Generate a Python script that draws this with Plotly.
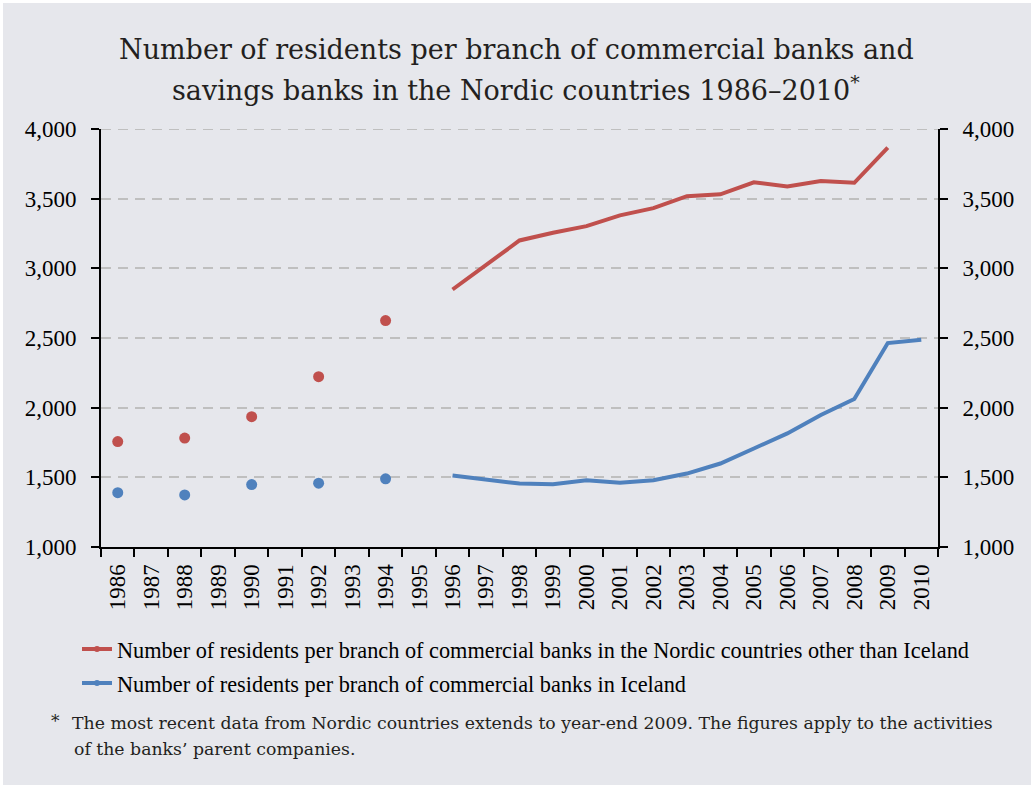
import plotly.graph_objects as go

# Year categories on the x axis
years = [str(y) for y in range(1986, 2011)]

# Early observations (every second year) shown as dots
dot_years = ["1986", "1988", "1990", "1992", "1994"]
nordic_dots = [1757, 1782, 1935, 2222, 2625]
iceland_dots = [1390, 1374, 1448, 1458, 1489]

# Annual series from 1996 onward
nordic_line_years = [str(y) for y in range(1996, 2010)]
nordic_line = [2848, 3025, 3200, 3255, 3303, 3380, 3432, 3518, 3531, 3617, 3588, 3626, 3614, 3866]
iceland_line_years = [str(y) for y in range(1996, 2011)]
iceland_line = [1513, 1482, 1455, 1451, 1479, 1462, 1479, 1527, 1599, 1707, 1815, 1947, 2062, 2464, 2488]

y_ticks = [1000, 1500, 2000, 2500, 3000, 3500, 4000]

legend_names = [
    "Number of residents per branch of commercial banks in the Nordic countries other than Iceland",
    "Number of residents per branch of commercial banks in Iceland",
]
title_lines = [
    "Number of residents per branch of commercial banks and",
    "savings banks in the Nordic countries 1986\u20132010<sup>*</sup>",
]
footnote_lines = [
    "The most recent data from Nordic countries extends to year-end 2009. The figures apply to the activities",
    "of the banks\u2019 parent companies.",
]

RED = "#c0504d"
BLUE = "#4f81bd"
BG = "#e6e7ec"
GRID = "#bfbfbf"
SERIF = "Liberation Serif, Times New Roman, serif"
TITLE_FONT = "DejaVu Serif, serif"

W, H = 1036, 787
ML, MR, MT, MB = 101, 98, 129, 240
PW, PH = W - ML - MR, H - MT - MB


def px_x(px):
    return (px - ML) / PW


def px_y(py):
    return (H - MB - py) / PH


fig = go.Figure()

fig.add_trace(go.Scatter(x=nordic_line_years, y=nordic_line, mode="lines",
                         line=dict(color=RED, width=4), showlegend=False))
fig.add_trace(go.Scatter(x=iceland_line_years, y=iceland_line, mode="lines",
                         line=dict(color=BLUE, width=4), showlegend=False))
fig.add_trace(go.Scatter(x=dot_years, y=nordic_dots, mode="markers",
                         marker=dict(color=RED, size=11), showlegend=False))
fig.add_trace(go.Scatter(x=dot_years, y=iceland_dots, mode="markers",
                         marker=dict(color=BLUE, size=11), showlegend=False))

# Legend entries
for i, (name, color) in enumerate(zip(legend_names, [RED, BLUE])):
    fig.add_trace(go.Scatter(x=[None], y=[None], mode="lines+markers", name=name,
                             legendgroup=f"g{i}",
                             line=dict(color=color, width=4),
                             marker=dict(color=color, size=6)))

# Invisible trace to anchor the right-hand axis
fig.add_trace(go.Scatter(x=years[:1], y=[None], yaxis="y2", showlegend=False,
                         hoverinfo="skip"))

axis_common = dict(
    range=[1000, 4000], tickvals=y_ticks, tickformat=",",
    ticks="outside", ticklen=8, tickwidth=2, tickcolor="black",
    showline=True, linewidth=2, linecolor="black",
    tickfont=dict(family=SERIF, size=23, color="black"),
    ticklabelstandoff=10, zeroline=False,
)

fig.update_layout(
    width=W, height=H,
    margin=dict(l=ML, r=MR, t=MT, b=MB),
    paper_bgcolor="white",
    plot_bgcolor=BG,
    xaxis=dict(
        type="category", categoryorder="array", categoryarray=years,
        range=[-0.5, len(years) - 0.5],
        tickson="boundaries", ticks="outside", ticklen=8, tickwidth=2,
        tickcolor="black", showline=True, linewidth=2, linecolor="black",
        showgrid=False, tickangle=-90,
        tickfont=dict(family=SERIF, size=23, color="black"),
        ticklabelstandoff=6,
    ),
    yaxis=dict(showgrid=True, gridcolor=GRID, gridwidth=2,
               griddash="10px,7px", **axis_common),
    yaxis2=dict(overlaying="y", side="right", showgrid=False, **axis_common),
    legend=dict(
        x=px_x(77), y=px_y(628), xanchor="left", yanchor="top",
        bgcolor="rgba(0,0,0,0)",
        font=dict(family=SERIF, size=22.3, color="black"),
        itemwidth=30, tracegroupgap=2,
    ),
    showlegend=True,
)

# Panel background
fig.add_shape(type="rect", xref="paper", yref="paper",
              x0=px_x(3), x1=px_x(1031), y0=px_y(785), y1=px_y(3),
              fillcolor=BG, line=dict(width=0), layer="below")

# Top gridline sits on the range edge, so draw it explicitly
fig.add_shape(type="line", xref="paper", yref="y", x0=0, x1=1,
              y0=y_ticks[-1], y1=y_ticks[-1],
              line=dict(color=GRID, width=2, dash="10px,7px"), layer="below")

# Title, two centred lines
for text, cy in zip(title_lines, [50, 88]):
    fig.add_annotation(text=text, xref="paper", yref="paper",
                       x=px_x(516), y=px_y(cy), xanchor="center", yanchor="middle",
                       showarrow=False,
                       font=dict(family=TITLE_FONT, size=27, color="#231f20"))

# Footnote
fig.add_annotation(text="*", xref="paper", yref="paper",
                   x=px_x(49), y=px_y(721), xanchor="left", yanchor="middle",
                   showarrow=False, font=dict(family=TITLE_FONT, size=17, color="#231f20"))
for text, lx, cy in zip(footnote_lines, [70, 72], [723, 749]):
    fig.add_annotation(text=text, xref="paper", yref="paper",
                       x=px_x(lx), y=px_y(cy), xanchor="left", yanchor="middle",
                       showarrow=False,
                       font=dict(family=TITLE_FONT, size=17.3, color="#231f20"))

fig.write_html("out.html")
